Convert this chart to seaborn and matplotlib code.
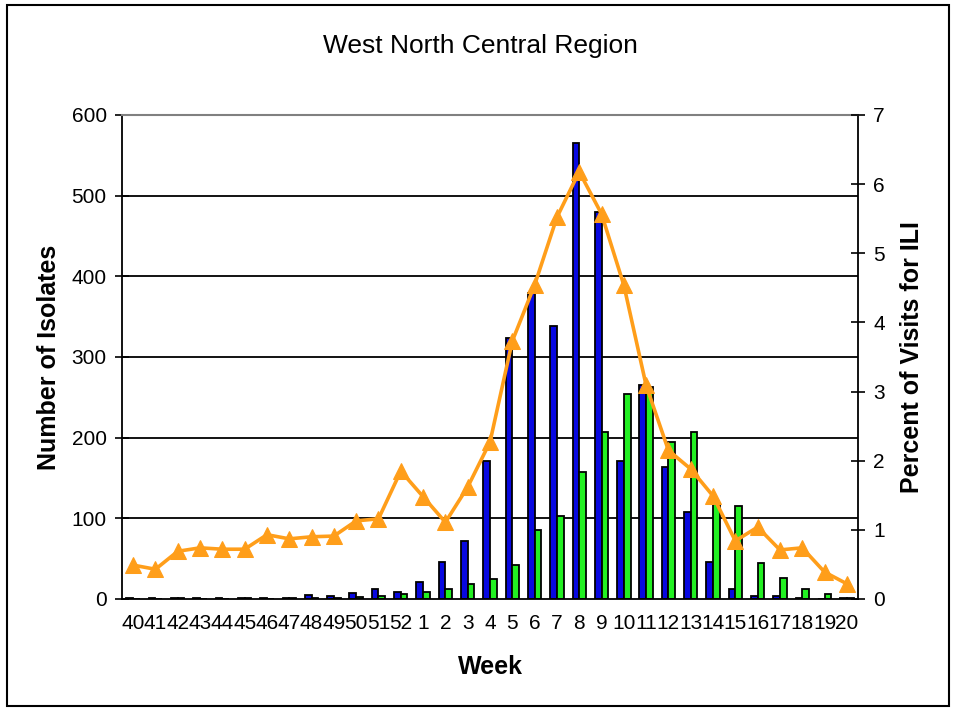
import numpy as np
import pandas as pd
import matplotlib
matplotlib.use("Agg")
import matplotlib.pyplot as plt
import matplotlib.patches as mpatches
import seaborn as sns

weeks = ["40", "41", "42", "43", "44", "45", "46", "47", "48", "49", "50", "51", "52",
         "1", "2", "3", "4", "5", "6", "7", "8", "9", "10", "11", "12", "13", "14",
         "15", "16", "17", "18", "19", "20"]
blue_counts = [1, 1, 1, 1, 1, 1, 1, 1, 5, 4, 8, 12, 9,
               21, 46, 72, 171, 323, 379, 338, 565, 480, 171, 265, 164, 108, 46,
               13, 4, 4, 1, 0, 1]
green_counts = [0, 0, 1, 0, 0, 1, 0, 1, 1, 1, 2, 4, 6,
                9, 12, 18, 25, 42, 86, 103, 157, 207, 254, 263, 195, 207, 119,
                115, 45, 26, 12, 6, 1]
ili_percent = [0.49, 0.43, 0.69, 0.74, 0.72, 0.72, 0.93, 0.87, 0.90, 0.91, 1.13, 1.16, 1.85,
               1.48, 1.11, 1.62, 2.27, 3.73, 4.54, 5.52, 6.18, 5.57, 4.54, 3.09, 2.15, 1.88, 1.49,
               0.84, 1.04, 0.71, 0.74, 0.39, 0.22]
series_names = ["A", "B"]

df = pd.DataFrame({
    "week": weeks * 2,
    "count": blue_counts + green_counts,
    "type": [series_names[0]] * len(weeks) + [series_names[1]] * len(weeks),
})

sns.set_theme(style="white")
plt.rcParams["font.family"] = ["Liberation Sans", "DejaVu Sans"]
plt.rcParams["text.color"] = "black"
plt.rcParams["axes.labelcolor"] = "black"
plt.rcParams["xtick.color"] = "black"
plt.rcParams["ytick.color"] = "black"

fig = plt.figure(figsize=(9.6, 7.2), dpi=100)
ax = fig.add_axes([122 / 960, 1 - 599 / 720, (858 - 122) / 960, (599 - 115) / 720])

BLUE = "#0808E0"
GREEN = "#22F022"
ORANGE = "#FF9E1A"

sns.barplot(data=df, x="week", y="count", hue="type", order=weeks,
            palette=[BLUE, GREEN], width=0.6, gap=0, edgecolor="black",
            linewidth=1.3, legend=False, ax=ax, saturation=1)

n = len(weeks)
ax.set_xlim(-0.5, n - 0.5)
ax.set_ylim(0, 600)
ax.set_yticks(np.arange(0, 601, 100))
ax.set_yticklabels([str(v) for v in range(0, 601, 100)], fontsize=15)
ax.set_axisbelow(True)
for v in range(100, 600, 100):
    ax.axhline(v, color="black", lw=1.3, zorder=0)

# x ticks: marks at category boundaries, labels at centers
ax.set_xticks(np.arange(n + 1) - 0.5)
ax.set_xticklabels([])
ax.set_xticks(np.arange(n), minor=True)
ax.set_xticklabels(weeks, minor=True, fontsize=15)
ax.tick_params(axis="x", which="major", direction="out", length=7, width=1.2, color="black")
ax.tick_params(axis="x", which="minor", length=0, pad=11, labelcolor="black")
ax.tick_params(axis="y", direction="inout", length=10, width=1.2, color="black", pad=6,
               labelcolor="black")

for s in ["left", "bottom", "right"]:
    ax.spines[s].set_color("black")
    ax.spines[s].set_linewidth(1.3)
ax.spines["top"].set_color("#808080")
ax.spines["top"].set_linewidth(1.5)

ax.set_xlabel("Week", fontsize=18, fontweight="bold", color="black")
ax.xaxis.set_label_coords(0.5, -0.115)
ax.set_ylabel("Number of Isolates", fontsize=18, fontweight="bold", color="black")
ax.yaxis.set_label_coords(-0.083, 0.5)

ax2 = ax.twinx()
sns.lineplot(x=np.arange(n), y=ili_percent, ax=ax2, color=ORANGE, linewidth=2.6,
             marker="^", markersize=12, markeredgecolor=ORANGE, markerfacecolor=ORANGE)
ax2.set_ylim(0, 7)
ax2.set_xlim(-0.5, n - 0.5)
ax2.set_yticks(np.arange(0, 8, 1))
ax2.set_yticklabels([str(v) for v in range(0, 8)], fontsize=15)
ax2.tick_params(axis="y", direction="inout", length=10, width=1.2, color="black", pad=6,
                labelcolor="black")
for s in ["left", "bottom", "right", "top"]:
    ax2.spines[s].set_visible(False)
ax2.grid(False)
ax2.set_ylabel("Percent of Visits for ILI", fontsize=18, fontweight="bold", color="black")
ax2.yaxis.set_label_coords(1.057, 0.5)

fig.text(0.5, 1 - 46 / 720, "West North Central Region", ha="center", va="center",
         fontsize=19, color="black")

fig.patches.append(mpatches.Rectangle((7 / 960, 1 - 706 / 720), (949 - 7) / 960,
                                      (706 - 5) / 720, transform=fig.transFigure,
                                      fill=False, edgecolor="black", linewidth=1.5))

fig.savefig("out.png", dpi=100)
